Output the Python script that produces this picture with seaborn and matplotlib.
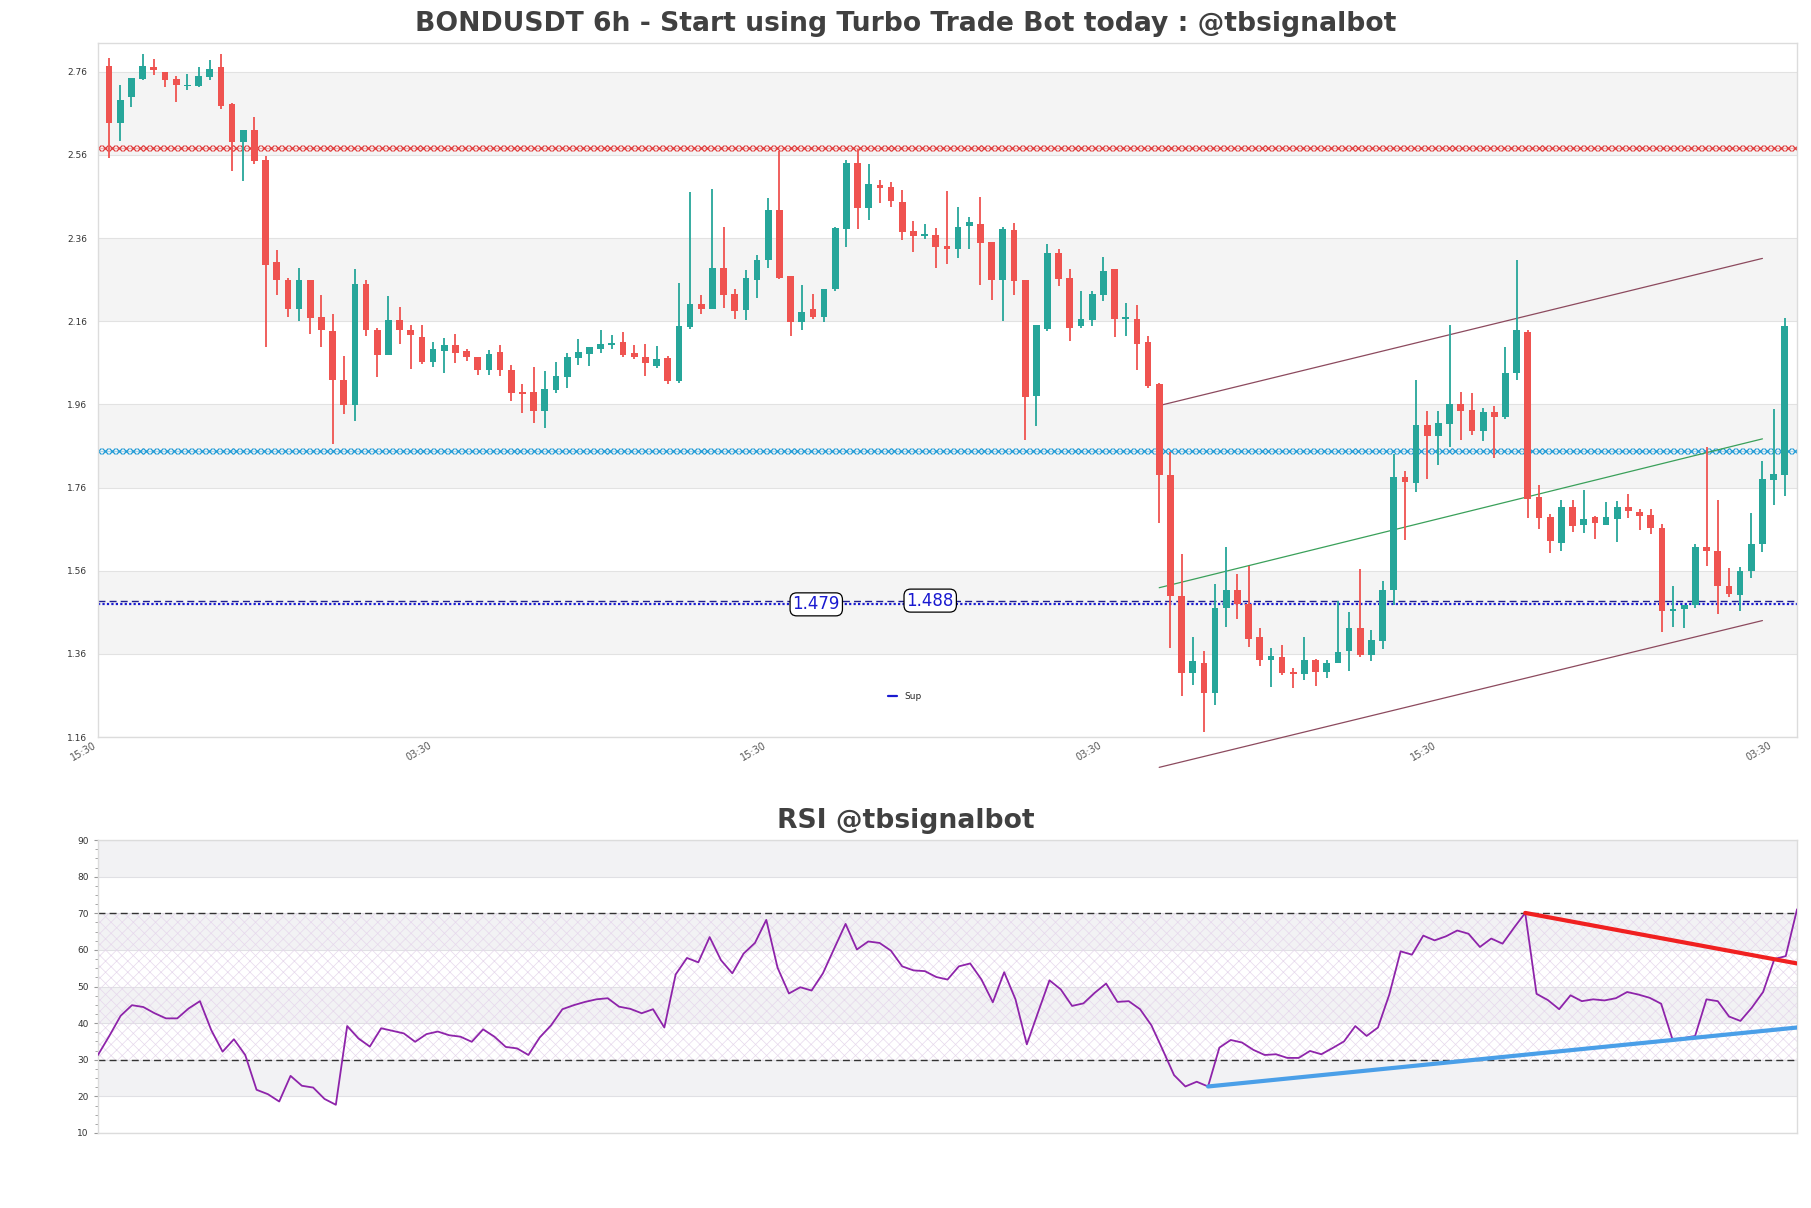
import numpy as np
import pandas as pd
import matplotlib
matplotlib.use("Agg")
import matplotlib.pyplot as plt
import seaborn as sns
from matplotlib.lines import Line2D
from matplotlib.ticker import AutoMinorLocator

# ---------------- data ----------------
title_main = "BONDUSDT 6h - Start using Turbo Trade Bot today : @tbsignalbot"
title_rsi = "RSI @tbsignalbot"

opens = [2.773, 2.637, 2.698, 2.743, 2.771, 2.760, 2.742, 2.726, 2.726, 2.748,
         2.771, 2.682, 2.592, 2.619, 2.547, 2.302, 2.260, 2.189, 2.260, 2.171,
         2.137, 2.019, 1.958, 2.249, 2.140, 2.078, 2.162, 2.138, 2.121, 2.062,
         2.089, 2.103, 2.089, 2.075, 2.043, 2.085, 2.043, 1.989, 1.989, 1.945,
         1.994, 2.025, 2.071, 2.080, 2.092, 2.103, 2.109, 2.083, 2.075, 2.053,
         2.071, 2.015, 2.145, 2.202, 2.189, 2.289, 2.226, 2.186, 2.260, 2.306,
         2.427, 2.268, 2.158, 2.189, 2.171, 2.237, 2.382, 2.540, 2.431, 2.487,
         2.482, 2.447, 2.377, 2.366, 2.368, 2.341, 2.333, 2.388, 2.394, 2.350,
         2.258, 2.379, 2.259, 1.979, 2.141, 2.323, 2.264, 2.149, 2.163, 2.223,
         2.285, 2.166, 2.166, 2.109, 2.008, 1.790, 1.500, 1.315, 1.337, 1.266,
         1.471, 1.514, 1.480, 1.400, 1.345, 1.352, 1.317, 1.312, 1.344, 1.317,
         1.339, 1.366, 1.423, 1.357, 1.391, 1.513, 1.785, 1.771, 1.910, 1.885,
         1.912, 1.961, 1.947, 1.897, 1.941, 1.930, 2.036, 2.135, 1.736, 1.689,
         1.626, 1.713, 1.670, 1.688, 1.671, 1.684, 1.714, 1.702, 1.693, 1.662,
         1.463, 1.469, 1.477, 1.617, 1.608, 1.522, 1.502, 1.560, 1.623, 1.777,
         1.791]
highs = [2.794, 2.729, 2.744, 2.803, 2.790, 2.760, 2.749, 2.754, 2.771, 2.788,
         2.803, 2.685, 2.619, 2.650, 2.558, 2.332, 2.265, 2.289, 2.260, 2.224,
         2.177, 2.077, 2.285, 2.260, 2.144, 2.220, 2.195, 2.150, 2.150, 2.109,
         2.119, 2.128, 2.092, 2.075, 2.091, 2.102, 2.054, 2.009, 2.049, 2.040,
         2.062, 2.083, 2.117, 2.098, 2.138, 2.126, 2.133, 2.102, 2.105, 2.100,
         2.077, 2.251, 2.470, 2.222, 2.478, 2.386, 2.237, 2.283, 2.320, 2.457,
         2.570, 2.268, 2.247, 2.226, 2.238, 2.387, 2.547, 2.574, 2.538, 2.500,
         2.494, 2.475, 2.401, 2.393, 2.385, 2.473, 2.435, 2.410, 2.459, 2.350,
         2.387, 2.395, 2.259, 2.150, 2.345, 2.334, 2.285, 2.233, 2.233, 2.314,
         2.285, 2.203, 2.198, 2.124, 2.012, 1.846, 1.600, 1.401, 1.368, 1.528,
         1.617, 1.552, 1.572, 1.422, 1.374, 1.382, 1.326, 1.401, 1.348, 1.346,
         1.487, 1.460, 1.565, 1.418, 1.535, 1.841, 1.799, 2.018, 1.945, 1.945,
         2.152, 1.989, 1.987, 1.951, 1.957, 2.099, 2.308, 2.139, 1.765, 1.696,
         1.731, 1.731, 1.754, 1.691, 1.725, 1.728, 1.745, 1.709, 1.709, 1.673,
         1.522, 1.477, 1.623, 1.858, 1.729, 1.566, 1.569, 1.698, 1.823, 1.948,
         2.168]
lows = [2.553, 2.594, 2.676, 2.741, 2.751, 2.722, 2.688, 2.715, 2.722, 2.740,
        2.670, 2.520, 2.498, 2.538, 2.097, 2.224, 2.170, 2.160, 2.128, 2.097,
        1.864, 1.936, 1.920, 2.125, 2.026, 2.078, 2.105, 2.045, 2.057, 2.049,
        2.035, 2.060, 2.065, 2.031, 2.031, 2.028, 1.968, 1.939, 1.916, 1.903,
        1.988, 1.999, 2.055, 2.052, 2.083, 2.094, 2.075, 2.070, 2.028, 2.047,
        2.009, 2.012, 2.142, 2.177, 2.189, 2.191, 2.166, 2.162, 2.215, 2.288,
        2.261, 2.125, 2.138, 2.166, 2.158, 2.233, 2.339, 2.382, 2.404, 2.445,
        2.435, 2.356, 2.326, 2.357, 2.288, 2.297, 2.311, 2.334, 2.248, 2.211,
        2.161, 2.222, 1.875, 1.908, 2.137, 2.244, 2.112, 2.144, 2.149, 2.208,
        2.121, 2.125, 2.043, 1.999, 1.675, 1.373, 1.259, 1.286, 1.173, 1.236,
        1.424, 1.443, 1.376, 1.330, 1.280, 1.310, 1.279, 1.297, 1.283, 1.303,
        1.337, 1.318, 1.353, 1.343, 1.371, 1.477, 1.633, 1.749, 1.781, 1.814,
        1.858, 1.875, 1.886, 1.873, 1.830, 1.925, 2.018, 1.687, 1.660, 1.603,
        1.608, 1.653, 1.651, 1.637, 1.671, 1.630, 1.687, 1.657, 1.648, 1.412,
        1.424, 1.421, 1.471, 1.572, 1.455, 1.496, 1.463, 1.542, 1.606, 1.718,
        1.740]
closes = [2.637, 2.693, 2.744, 2.773, 2.764, 2.740, 2.729, 2.729, 2.749, 2.767,
          2.677, 2.590, 2.619, 2.545, 2.295, 2.258, 2.189, 2.258, 2.168, 2.138,
          2.019, 1.958, 2.249, 2.140, 2.079, 2.162, 2.138, 2.126, 2.062, 2.092,
          2.103, 2.083, 2.073, 2.043, 2.082, 2.043, 1.987, 1.985, 1.945, 1.996,
          2.027, 2.075, 2.085, 2.098, 2.105, 2.107, 2.078, 2.073, 2.060, 2.070,
          2.015, 2.148, 2.202, 2.189, 2.289, 2.224, 2.184, 2.263, 2.308, 2.427,
          2.264, 2.158, 2.183, 2.170, 2.238, 2.384, 2.540, 2.431, 2.490, 2.480,
          2.449, 2.375, 2.366, 2.368, 2.338, 2.334, 2.386, 2.398, 2.349, 2.258,
          2.381, 2.257, 1.978, 2.150, 2.323, 2.261, 2.144, 2.166, 2.225, 2.280,
          2.166, 2.169, 2.106, 2.003, 1.790, 1.500, 1.315, 1.343, 1.266, 1.471,
          1.514, 1.480, 1.396, 1.344, 1.354, 1.315, 1.312, 1.344, 1.316, 1.339,
          1.365, 1.423, 1.357, 1.393, 1.514, 1.785, 1.773, 1.910, 1.885, 1.916,
          1.960, 1.945, 1.897, 1.941, 1.930, 2.036, 2.140, 1.733, 1.687, 1.631,
          1.713, 1.668, 1.684, 1.675, 1.689, 1.714, 1.703, 1.691, 1.662, 1.463,
          1.469, 1.477, 1.617, 1.608, 1.524, 1.504, 1.560, 1.625, 1.780, 1.793,
          2.149]
rsi = [31.3, 36.5, 42.0, 44.9, 44.4, 42.7, 41.3, 41.3, 44.0, 46.0,
       38.1, 32.2, 35.6, 31.3, 21.8, 20.6, 18.6, 25.6, 22.9, 22.4,
       19.3, 17.7, 39.2, 35.8, 33.6, 38.6, 37.9, 37.2, 34.9, 37.0,
       37.7, 36.7, 36.3, 34.9, 38.3, 36.3, 33.5, 33.1, 31.3, 36.1,
       39.4, 43.8, 44.9, 45.8, 46.5, 46.8, 44.5, 43.9, 42.7, 43.8,
       38.8, 53.3, 57.8, 56.6, 63.5, 57.2, 53.6, 59.0, 61.9, 68.2,
       55.1, 48.1, 49.8, 48.9, 53.6, 60.4, 67.1, 60.1, 62.3, 61.9,
       59.8, 55.5, 54.4, 54.2, 52.6, 51.9, 55.5, 56.3, 51.9, 45.7,
       53.9, 46.5, 34.2, 43.0, 51.7, 49.2, 44.7, 45.4, 48.3, 50.8,
       45.8, 46.0, 43.8, 39.4, 32.7, 25.8, 22.7, 24.0, 22.7, 33.3,
       35.4, 34.7, 32.7, 31.3, 31.5, 30.5, 30.5, 32.4, 31.5, 33.2,
       35.0, 39.2, 36.5, 38.8, 47.8, 59.6, 58.7, 63.9, 62.6, 63.7,
       65.3, 64.4, 60.8, 63.1, 61.7, 66.0, 70.1, 48.0, 46.3, 43.8,
       47.6, 46.0, 46.5, 46.2, 46.8, 48.5, 47.8, 46.9, 45.3, 35.6,
       35.9, 36.5, 46.5, 46.0, 41.8, 40.6, 44.2, 48.5, 57.5, 58.3,
       71.1]

xtick_pos = [-1, 29, 59, 89, 119, 149]
xtick_labels = ["15:30", "03:30", "15:30", "03:30", "15:30", "03:30"]
price_ticks = [1.16, 1.36, 1.56, 1.76, 1.96, 2.16, 2.36, 2.56, 2.76]
rsi_ticks = [10, 20, 30, 40, 50, 60, 70, 80, 90]

resistance_levels = [2.577, 1.847]
support_levels = [1.479, 1.488]
support_label_x = [63.3, 73.5]

channel_x = [94, 148]
channel_upper = [1.957, 2.311]
channel_mid = [1.519, 1.877]
channel_lower = [1.087, 1.440]

rsi_res_x = [126, 150]
rsi_res_y = [70.1, 56.3]
rsi_sup_x = [98, 150]
rsi_sup_y = [22.7, 38.8]

# ---------------- style ----------------
sns.set_theme(style="white")
plt.rcParams["font.family"] = ["DejaVu Sans"]
plt.rcParams["hatch.linewidth"] = 0.5

UP = "#26a69a"
DOWN = "#ef5350"
BAND = "#f4f4f4"
SPINE = "#dcdcdc"

df = pd.DataFrame({"o": opens, "h": highs, "l": lows, "c": closes})
df["i"] = np.arange(len(df))
df["up"] = df["c"] >= df["o"]
df["col"] = np.where(df["up"], UP, DOWN)
df["bot"] = df[["o", "c"]].min(axis=1)
df["hgt"] = (df["c"] - df["o"]).abs().clip(lower=0.003)

fig = plt.figure(figsize=(18.11, 12.08), dpi=100)
ax = fig.add_axes([0.0541, 0.3899, 0.9382, 0.5745])
ax2 = fig.add_axes([0.0541, 0.0621, 0.9382, 0.2425])

# ---------------- main price axis ----------------
ax.set_xlim(-1, 151.1)
ax.set_ylim(1.16, 2.829)
for lo, hi in [(1.36, 1.56), (1.76, 1.96), (2.16, 2.36), (2.56, 2.76)]:
    ax.axhspan(lo, hi, color=BAND, zorder=0, lw=0)
for t in price_ticks:
    ax.axhline(t, color="#e2e2e2", lw=0.8, zorder=0.5)

# resistance lines drawn as x-marker lines
res_colors = ["#e03a3a", "#1f9ad6"]
xs_mark = np.arange(-1, 151.2, 0.62)
for lvl, colr in zip(resistance_levels, res_colors):
    ax.plot(xs_mark, np.full_like(xs_mark, lvl), ls="none", marker="x",
            ms=4.2, mew=0.9, color=colr, zorder=2)
    ax.axhline(lvl, color=colr, lw=0.5, alpha=0.5, zorder=2)

# support lines
ax.axhline(support_levels[0], color="#1a1ad0", lw=1.6, ls=(0, (1, 1)), zorder=2)
ax.axhline(support_levels[1], color="#202090", lw=1.0, ls=(0, (5, 3)), zorder=2)
for xv, lvl in zip(support_label_x, support_levels):
    ax.text(xv, lvl, f"{lvl:.3f}", color="#1a1ad0", fontsize=12,
            ha="center", va="center", zorder=6,
            bbox=dict(boxstyle="round,pad=0.15,rounding_size=0.4", fc="white", ec="black", lw=0.9))

# channel lines
ax.plot(channel_x, channel_upper, color="#8c4a5e", lw=0.9, zorder=3, clip_on=False)
ax.plot(channel_x, channel_lower, color="#8c4a5e", lw=0.9, zorder=3, clip_on=False)
ax.plot(channel_x, channel_mid, color="#3aa05a", lw=0.9, zorder=3, clip_on=False)

# candles
ax.vlines(df["i"], df["l"], df["h"], colors=df["col"], lw=1.3, zorder=4)
ax.bar(df["i"], df["hgt"], bottom=df["bot"], width=0.6, color=df["col"], lw=0, zorder=5)

ax.set_yticks(price_ticks)
ax.set_yticklabels([f"{t:.2f}" for t in price_ticks])
ax.set_xticks(xtick_pos)
ax.set_xticklabels(xtick_labels, rotation=30, ha="right")
ax.tick_params(axis="y", length=0, pad=8, labelsize=6.5, labelcolor="#333333")
ax.tick_params(axis="x", length=0, pad=2, labelsize=7, labelcolor="#555555")
for s in ax.spines.values():
    s.set_color(SPINE)
    s.set_linewidth(1.0)

ax.legend(handles=[Line2D([], [], color="#1a1ad0", lw=1.6, label="Sup")],
          loc="lower center", bbox_to_anchor=(0.475, 0.04), frameon=False,
          fontsize=6.5, handlelength=1.0)

fig.text(0.5, 0.980, title_main, ha="center", va="center", fontsize=19.2,
         fontweight="bold", color="#404040")

# ---------------- RSI axis ----------------
ax2.set_xlim(0, len(rsi) - 1)
ax2.set_ylim(10, 90)
for lo, hi in [(20, 30), (40, 50), (60, 70), (80, 90)]:
    ax2.axhspan(lo, hi, color="#f2f2f4", zorder=0, lw=0)
for t in rsi_ticks:
    ax2.axhline(t, color="#e0e0e4", lw=0.8, zorder=0.5)
ax2.fill_between([0, len(rsi) - 1], 30, 70, facecolor="none", hatch="xxx",
                 edgecolor="#e6d8ec", linewidth=0, zorder=1)
ax2.axhline(70, color="#333333", lw=1.0, ls=(0, (5, 3)), zorder=2)
ax2.axhline(30, color="#333333", lw=1.0, ls=(0, (5, 3)), zorder=2)

rdf = pd.DataFrame({"i": np.arange(len(rsi)), "rsi": rsi})
sns.lineplot(data=rdf, x="i", y="rsi", ax=ax2, color="#8e24aa", lw=1.3, zorder=3)
ax2.plot(rsi_res_x, rsi_res_y, color="#f02020", lw=3, zorder=4)
ax2.plot(rsi_sup_x, rsi_sup_y, color="#4a9fe8", lw=3, zorder=4)

ax2.set_xlabel("")
ax2.set_ylabel("")
ax2.set_xticks([])
ax2.set_yticks(rsi_ticks)
ax2.yaxis.set_minor_locator(AutoMinorLocator(4))
ax2.tick_params(axis="y", which="major", length=3, width=0.8, color="#999999",
                labelsize=6.5, labelcolor="#333333", left=True)
ax2.tick_params(axis="y", which="minor", length=2, width=0.6, color="#999999", left=True)
for s in ax2.spines.values():
    s.set_color(SPINE)
    s.set_linewidth(1.0)

fig.text(0.5, 0.320, title_rsi, ha="center", va="center", fontsize=19.2,
         fontweight="bold", color="#404040")

fig.savefig("out.png", dpi=100)
